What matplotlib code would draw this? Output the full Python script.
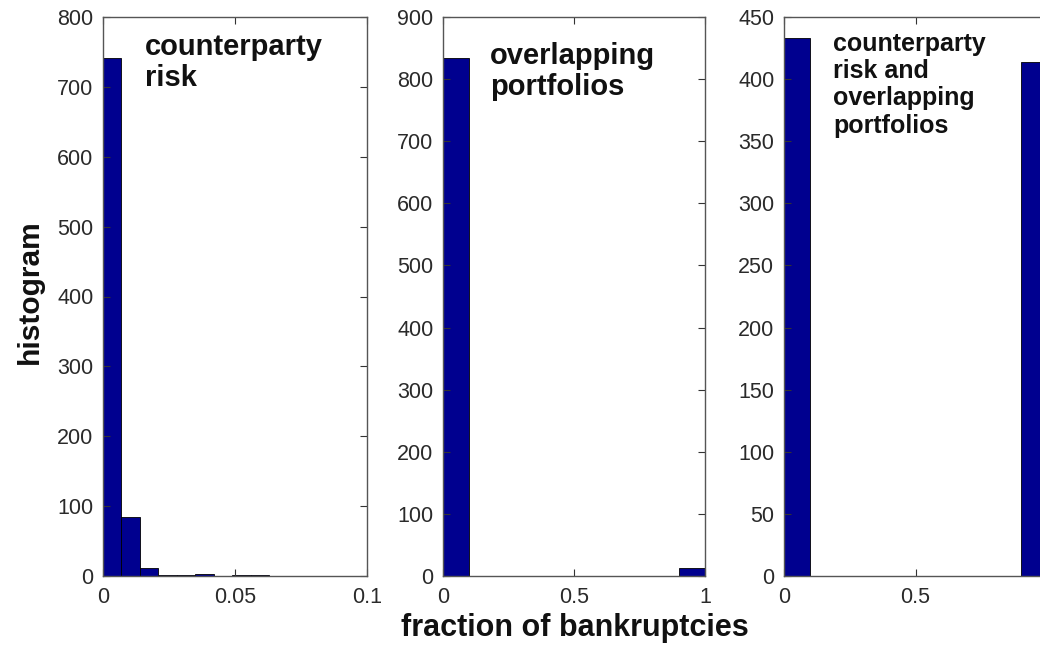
import numpy as np
import matplotlib
matplotlib.use("Agg")
import matplotlib.pyplot as plt

# ---- data ----
# counterparty risk: 10 bins over 0..0.07
cp_edges = np.linspace(0.0, 0.07, 11)
cp_counts = [742, 84, 11, 1, 1, 3, 0, 1, 1, 0]

# overlapping portfolios: 10 bins over 0..1
op_edges = np.linspace(0.0, 1.0, 11)
op_counts = [834, 0, 0, 0, 0, 0, 0, 0, 0, 13]

# counterparty risk and overlapping portfolios
both_edges = np.linspace(0.0, 1.0, 11)
both_counts = [433, 0, 0, 0, 0, 0, 0, 0, 0, 414]

titles = ["counterparty\nrisk", "overlapping\nportfolios",
          "counterparty\nrisk and\noverlapping\nportfolios"]
xlims = [(0, 0.1), (0, 1), (0, 1)]
xticks = [[0, 0.05, 0.1], [0, 0.5, 1], [0, 0.5, 1]]
# the "1" of the last panel falls outside the cropped picture
xticklabels = [["0", "0.05", "0.1"], ["0", "0.5", "1"], ["0", "0.5", ""]]
ylims = [(0, 800), (0, 900), (0, 450)]
ystep = [100, 100, 50]

plt.rcParams["font.family"] = ["Liberation Sans", "DejaVu Sans"]

BAR = (0, 0, 0.5625)

fig = plt.figure(figsize=(10.4, 6.47), dpi=100)

# axes rectangles in pixels (left, width); the third one runs off the right edge
boxes = [(103, 264), (443, 262), (784, 263)]
bottom_px, top_px = 576, 17
H, W = 647, 1040

data = [(cp_edges, cp_counts), (op_edges, op_counts), (both_edges, both_counts)]
# x, top y, font size, line spacing
text_pos = [(145, 33, 21, 1.12), (490, 42, 21, 1.12), (833, 32, 18, 1.17)]

for i, ((left, width), (edges, counts)) in enumerate(zip(boxes, data)):
    ax = fig.add_axes([left / W, 1 - bottom_px / H, width / W,
                       (bottom_px - top_px) / H])
    ax.bar(edges[:-1], counts, width=np.diff(edges), align="edge",
           color=BAR, edgecolor="black", linewidth=0.6)
    ax.set_xlim(*xlims[i])
    ax.set_ylim(*ylims[i])
    ax.set_xticks(xticks[i])
    ax.set_xticklabels(xticklabels[i])
    ax.set_yticks(np.arange(0, ylims[i][1] + 1, ystep[i]))
    ax.tick_params(direction="in", top=True, right=True, length=5,
                   width=0.8, labelsize=15.5, colors="#333333",
                   labelcolor="#2a2a2a")
    ax.tick_params(axis="x", pad=8)
    ax.tick_params(axis="y", pad=7)
    for s in ax.spines.values():
        s.set_color("#555555")
        s.set_linewidth(1.0)
    tx, ty, fs, ls = text_pos[i]
    fig.text(tx / W, 1 - ty / H, titles[i], fontsize=fs, fontweight="bold",
             va="top", ha="left", linespacing=ls, color="#111111")

fig.text(30 / W, 1 - 292 / H, "histogram", rotation=90, fontsize=21.5,
         fontweight="bold", ha="center", va="center", color="#111111")
fig.text(575 / W, 1 - 628 / H, "fraction of bankruptcies", fontsize=22,
         fontweight="bold", ha="center", va="center", color="#111111")

fig.savefig("out.png", dpi=100)
